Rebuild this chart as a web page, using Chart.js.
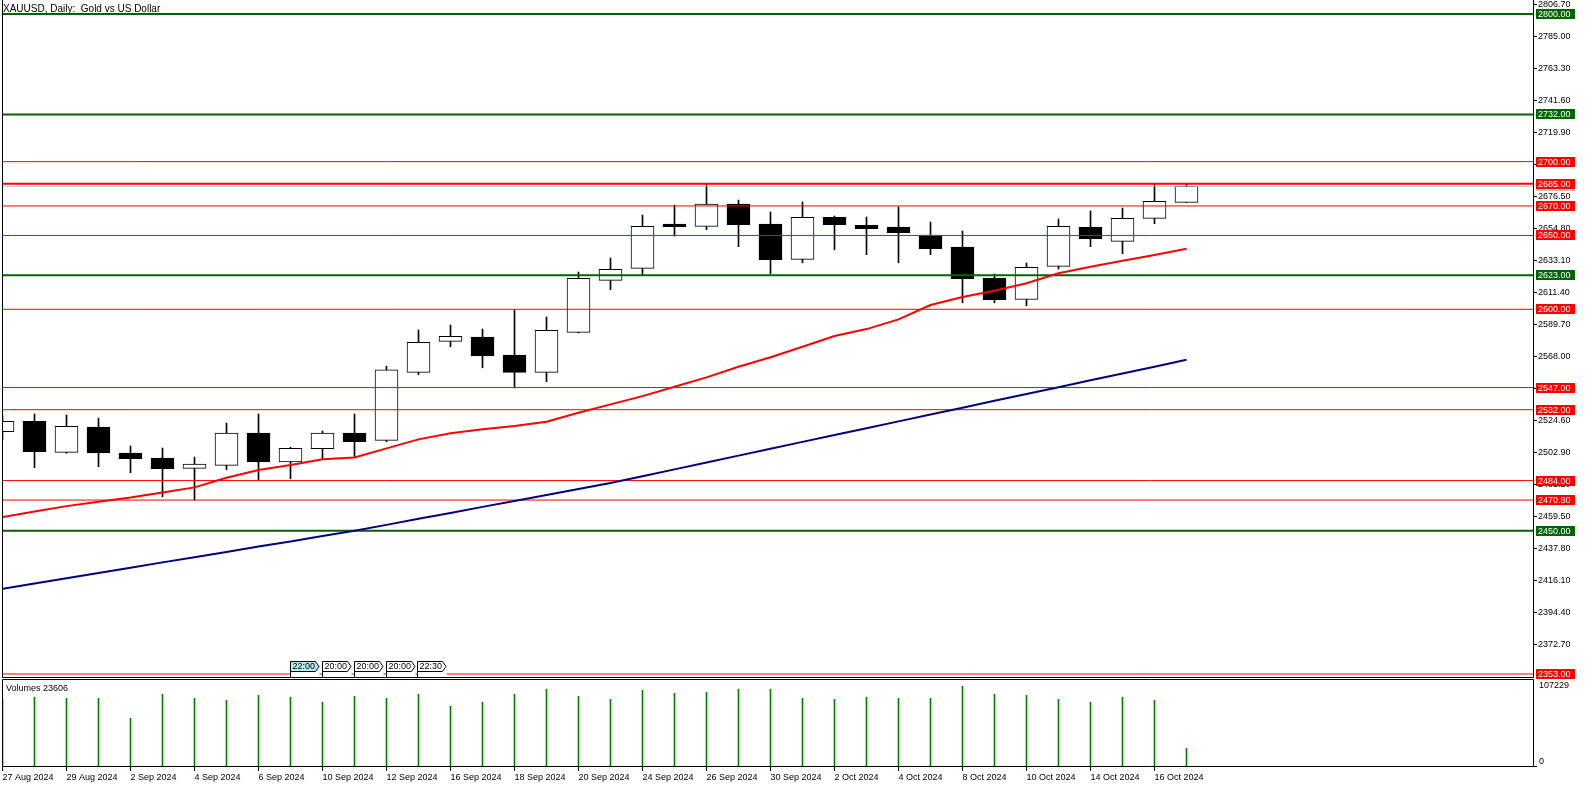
<!DOCTYPE html>
<html><head><meta charset="utf-8">
<script src="https://cdn.jsdelivr.net/npm/chart.js@4.4.1/dist/chart.umd.min.js"></script>
<style>
html,body{margin:0;padding:0;background:#fff;width:1586px;height:788px;overflow:hidden;}
canvas{position:absolute;left:0;}
#c1{top:0;}
#c2{top:679px;}
.t{position:absolute;font-family:"Liberation Sans",Arial,sans-serif;color:#000;white-space:pre;line-height:1;}
</style></head><body>
<canvas id="c1" width="1586" height="679"></canvas>
<canvas id="c2" width="1586" height="109"></canvas>
<div class="t" style="left:3px;top:4px;font-size:10px">XAUUSD, Daily:  Gold vs US Dollar</div>
<div class="t" style="left:6px;top:684px;font-size:9px">Volumes 23606</div>
<script>
const dates = ['27 Aug 2024','28 Aug 2024','29 Aug 2024','30 Aug 2024','2 Sep 2024','3 Sep 2024','4 Sep 2024','5 Sep 2024','6 Sep 2024','9 Sep 2024','10 Sep 2024','11 Sep 2024','12 Sep 2024','13 Sep 2024','16 Sep 2024','17 Sep 2024','18 Sep 2024','19 Sep 2024','20 Sep 2024','23 Sep 2024','24 Sep 2024','25 Sep 2024','26 Sep 2024','27 Sep 2024','30 Sep 2024','1 Oct 2024','2 Oct 2024','3 Oct 2024','4 Oct 2024','7 Oct 2024','8 Oct 2024','9 Oct 2024','10 Oct 2024','11 Oct 2024','14 Oct 2024','15 Oct 2024','16 Oct 2024','17 Oct 2024'];
const opens  = [2517.1,2524.1,2503.1,2520.2,2502.6,2499.2,2492.3,2494.3,2516.2,2496.7,2505.6,2516.2,2511.2,2557.3,2578.3,2581.2,2569.0,2557.3,2584.4,2619.6,2627.7,2657.8,2656.2,2671.3,2657.8,2633.8,2662.3,2656.9,2655.7,2650.3,2642.2,2621.2,2606.7,2629.1,2655.5,2646.0,2661.6,2672.4];
const highs  = [2528.0,2529.1,2528.4,2526.3,2507.4,2506.0,2499.9,2522.9,2529.1,2506.5,2517.5,2529.1,2561.5,2586.0,2589.3,2586.6,2599.5,2594.8,2625.2,2634.7,2663.8,2670.6,2684.4,2674.0,2665.9,2672.7,2663.2,2662.5,2669.3,2659.1,2653.0,2623.9,2631.3,2661.1,2666.6,2668.6,2684.4,2684.6];
const lows   = [2512.0,2492.7,2502.5,2493.4,2489.3,2473.0,2470.8,2491.3,2484.5,2485.2,2498.8,2499.7,2510.3,2555.7,2574.6,2560.4,2546.7,2550.9,2584.0,2613.3,2623.4,2649.6,2653.9,2642.4,2624.1,2631.5,2640.3,2637.0,2631.5,2637.0,2604.4,2604.4,2602.4,2627.3,2642.4,2637.6,2658.0,2672.2];
const closes = [2524.1,2503.5,2520.7,2502.8,2498.8,2492.0,2495.2,2516.2,2496.7,2505.8,2516.2,2510.3,2559.0,2577.6,2581.7,2568.5,2557.3,2585.7,2621.0,2627.1,2656.2,2656.0,2671.3,2657.3,2633.6,2662.3,2657.3,2654.6,2651.9,2641.0,2620.7,2606.5,2628.4,2656.2,2647.8,2661.6,2673.1,2683.3];
const volumes = [86000,87960,86700,86700,61460,91750,86700,84180,90490,87960,81650,89220,86700,91750,76600,81650,91750,98060,89220,85440,96800,93010,94270,98060,98060,86700,85440,87960,86700,86700,101840,91750,90490,85440,81650,87960,84180,23606];
const maRed  = [2459.3,2463.1,2466.7,2469.7,2472.6,2476.0,2479.4,2485.9,2491.1,2494.5,2498.4,2499.7,2505.8,2511.9,2516.0,2518.7,2520.9,2523.8,2529.9,2535.6,2541.2,2547.5,2553.9,2561.1,2567.5,2574.6,2581.9,2586.6,2593.2,2602.9,2608.3,2612.6,2617.6,2624.4,2628.8,2632.9,2636.8,2641.0];
const maBlue = [2410.7,2414.3,2417.8,2421.4,2425.0,2428.6,2432.1,2435.7,2439.3,2442.8,2446.4,2450.0,2454.0,2458.1,2462.1,2466.2,2470.2,2474.3,2478.3,2482.4,2487.0,2491.6,2496.2,2500.9,2505.5,2510.2,2514.8,2519.4,2524.1,2528.7,2533.3,2538.0,2542.6,2547.2,2551.9,2556.5,2561.1,2565.8];
const priceTicks = [2806.70,2785.00,2763.30,2741.60,2719.90,2698.20,2676.50,2654.80,2633.10,2611.40,2589.70,2568.00,2546.30,2524.60,2502.90,2481.20,2459.50,2437.80,2416.10,2394.40,2372.70];
const greenLevels = [2800.00,2732.00,2623.00,2450.00];
const redLevels = [2700.00,2685.00,2670.00,2650.00,2600.00,2547.00,2532.00,2484.00,2470.80,2353.00];
const bidPrice = 2683.3;
const volumeMax = 107229;
const volumeLabel = 23606;
const timeLabels = ['22:00','20:00','20:00','20:00','22:30'];
const timeLabelBars = [9,10,11,12,13];

// ---- layout / style (not data) ----
const PX = 32;                 // bar spacing in px
const X_MIN = 0.5/PX, X_MAX = 1530/PX + X_MIN;
const Y_MIN = 2350.97, Y_MAX = 2806.77;
const FONT = '"Liberation Sans", Arial, sans-serif';
const RED = '#FF0000', GREEN = '#006400', BLUE = '#000080';

const idx = dates.map((d,i)=>i);
const hline = v => [{x:X_MIN,y:v},{x:X_MAX,y:v}];

const datasets = [];
datasets.push({type:'line', data: idx.map(i=>({x:i,y:maRed[i]})), borderColor:RED, borderWidth:2, pointRadius:0, tension:0, order:1, clip:0});
datasets.push({type:'line', data: idx.map(i=>({x:i,y:maBlue[i]})), borderColor:BLUE, borderWidth:2, pointRadius:0, tension:0, order:1, clip:0});
greenLevels.forEach(v=>datasets.push({type:'line', data:hline(v), borderColor:GREEN, borderWidth:2, pointRadius:0, order:2, clip:0}));
redLevels.forEach(v=>datasets.push({type:'line', data:hline(v), borderColor:RED, borderWidth:(v===2685?2:1), pointRadius:0, order:2, clip:0}));
datasets.push({type:'line', data:hline(bidPrice), borderColor:'#C0C0C0', borderWidth:1, pointRadius:0, order:3, clip:0});
datasets.push({type:'bar', data: idx.map(i=>({x:i,y:[opens[i],closes[i]]})),
  backgroundColor: idx.map(i=>closes[i]>=opens[i]?'#FFFFFF':'#000000'),
  borderColor:'#000000', borderWidth:1, borderSkipped:false, barThickness:23, grouped:false, order:4, clip:0});
datasets.push({type:'bar', data: idx.map(i=>({x:i,y:[lows[i],highs[i]]})),
  backgroundColor:'#000000', borderWidth:0, barThickness:1, grouped:false, order:5, clip:0});

function fmt(v){return v.toFixed(2);}

const mainPlugin = {
  id:'mainDecor',
  afterDraw(chart){
    const ctx = chart.ctx, ys = chart.scales.y, xs = chart.scales.x;
    ctx.save();
    ctx.strokeStyle = '#000'; ctx.lineWidth = 1;
    ctx.beginPath();
    ctx.moveTo(2.5,0); ctx.lineTo(2.5,677.5); ctx.lineTo(1533.5,677.5); ctx.lineTo(1533.5,0);
    ctx.stroke();
    ctx.font = '9px ' + FONT;
    timeLabelBars.forEach((b,k)=>{
      const x0 = Math.round(xs.getPixelForValue(b)) - 0.5;
      ctx.fillStyle = '#fff';
      ctx.fillRect(x0, 672, 29, 4);
      ctx.beginPath();
      ctx.moveTo(x0,661.5); ctx.lineTo(x0+25,661.5); ctx.lineTo(x0+28.5,666.5); ctx.lineTo(x0+25,671.5); ctx.lineTo(x0,671.5); ctx.closePath();
      ctx.fillStyle = k===0 ? '#AFEEEE' : '#FFFFFF';
      ctx.fill(); ctx.stroke();
      ctx.beginPath(); ctx.moveTo(x0,671.5); ctx.lineTo(x0,677); ctx.stroke();
      ctx.fillStyle = '#000'; ctx.textBaseline='middle'; ctx.textAlign='left';
      ctx.fillText(timeLabels[k], x0+2, 667);
    });
    ctx.font = '9px ' + FONT;
    ctx.textBaseline = 'middle'; ctx.textAlign = 'left';
    const box = (v, bg, fg, text) => {
      const y = Math.round(ys.getPixelForValue(v));
      ctx.fillStyle = bg; ctx.fillRect(1536, y-5, 39, 10);
      if (text){ ctx.fillStyle = fg; ctx.fillText(text, 1538, y+0.5); }
    };
    box(bidPrice, '#C0C0C0', '#000', '');
    greenLevels.forEach(v=>box(v, GREEN, '#fff', fmt(v)));
    redLevels.forEach(v=>box(v, RED, '#fff', fmt(v)));
    ctx.restore();
  }
};

new Chart(document.getElementById('c1'), {
  type:'bar',
  data:{datasets},
  options:{
    responsive:false, animation:false, events:[],
    layout:{padding:{left:3,top:4,right:0,bottom:2}},
    plugins:{legend:{display:false}, tooltip:{enabled:false}},
    scales:{
      x:{type:'linear', display:false, min:X_MIN, max:X_MAX, offset:false, bounds:'data', grid:{offset:false}},
      y:{type:'linear', position:'right', min:Y_MIN, max:Y_MAX, bounds:'data',
         afterBuildTicks(s){ s.ticks = priceTicks.map(v=>({value:v})); },
         afterFit(s){ s.width = 53; s.paddingTop = 0; s.paddingBottom = 0; },
         border:{display:false},
         grid:{drawOnChartArea:false, drawTicks:true, tickLength:4, color:'#000', lineWidth:1},
         ticks:{color:'#000', font:{family:FONT, size:9}, padding:1, autoSkip:false, callback:v=>fmt(v)}}
    }
  },
  plugins:[mainPlugin]
});

const volPlugin = {
  id:'volDecor',
  afterDraw(chart){
    const ctx = chart.ctx, ys = chart.scales.y;
    ctx.save();
    ctx.strokeStyle='#000'; ctx.lineWidth=1;
    ctx.beginPath();
    ctx.moveTo(2.5,0.5); ctx.lineTo(1533.5,0.5); ctx.lineTo(1533.5,87.5); ctx.lineTo(2.5,87.5); ctx.closePath();
    ctx.stroke();
    ctx.beginPath(); ctx.moveTo(1533,87.5); ctx.lineTo(1537,87.5); ctx.stroke();
    ctx.fillStyle='#000'; ctx.font='9px '+FONT; ctx.textBaseline='middle'; ctx.textAlign='left';
    ctx.fillText(String(volumeMax), 1539, ys.getPixelForValue(volumeMax)+4);
    ctx.fillText('0', 1539, ys.getPixelForValue(0)-5);
    ctx.restore();
  }
};

new Chart(document.getElementById('c2'), {
  type:'bar',
  data:{datasets:[{data: idx.map(i=>({x:i,y:volumes[i]})), backgroundColor:'#008000', borderWidth:0, barThickness:1, clip:0}]},
  options:{
    responsive:false, animation:false, events:[],
    layout:{padding:{left:3,top:3,right:0,bottom:0}},
    plugins:{legend:{display:false}, tooltip:{enabled:false}},
    scales:{
      x:{type:'linear', min:X_MIN, max:X_MAX, offset:false, bounds:'data',
         afterBuildTicks(s){ s.ticks = idx.filter(i=>i%2===0).map(v=>({value:v})); },
         afterFit(s){ s.height = 21; s.paddingLeft = 0; s.paddingRight = 0; },
         border:{display:false},
         grid:{drawOnChartArea:false, offset:false, drawTicks:true, tickLength:4, color:'#000'},
         ticks:{color:'#000', font:{family:FONT, size:9}, padding:1, align:'start', autoSkip:false, maxRotation:0, callback:v=>dates[v]}},
      y:{type:'linear', position:'right', min:0, max:volumeMax, bounds:'data',
         afterFit(s){ s.width = 53; s.paddingTop = 0; s.paddingBottom = 0; },
         border:{display:false}, grid:{display:false}, ticks:{display:false}}
    }
  },
  plugins:[volPlugin]
});
</script>
</body></html>
